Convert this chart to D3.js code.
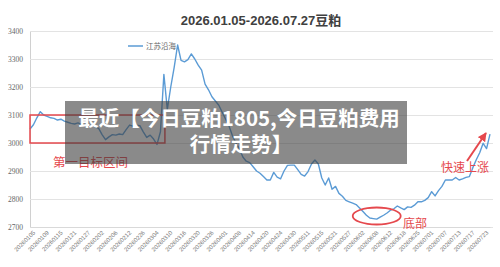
<!DOCTYPE html>
<html>
<head>
<meta charset="utf-8">
<script src="https://cdn.jsdelivr.net/npm/d3@7"></script>
<style>
  body { margin: 0; background: #fff; }
  svg { display: block; }
</style>
</head>
<body>
<script>
// x tick labels, one every 4 trading days
var tickLabels = ['20260105', '20260109', '20260115', '20260121', '20260127', '20260202', '20260206', '20260212',
    '20260226', '20260304', '20260310', '20260316', '20260320', '20260326', '20260401', '20260408', '20260414',
    '20260420', '20260424', '20260430', '20260511', '20260515', '20260521', '20260527', '20260602', '20260608',
    '20260612', '20260618', '20260625', '20260701', '20260707', '20260713', '20260717', '20260723'];

// 江苏沿海 daily price
var prices = [
    3050, 3065, 3090, 3112, 3100, 3095, 3090, 3088, 3082, 3085,
    3078, 3074, 3070, 3068, 3072, 3066, 3063, 3060, 3062, 3058,
    3052, 3030, 3012, 3022, 3030, 3028, 3032, 3030, 3048, 3064,
    3060, 3064, 3062, 3040, 3020, 3028, 3014, 2995, 3040, 3245,
    3120, 3200, 3270, 3350, 3295, 3290, 3298, 3318, 3300, 3278,
    3260, 3210, 3190, 3165, 3150, 3135, 3110, 3085, 3060, 3025,
    3000, 2980, 2950, 2935, 2930, 2915, 2900, 2892, 2880, 2868,
    2868, 2895, 2878, 2872, 2900, 2920, 2921, 2921, 2905, 2888,
    2882, 2898, 2925, 2939, 2925, 2875, 2850, 2875, 2835, 2845,
    2820, 2810, 2795, 2790, 2785, 2780, 2768, 2755, 2742, 2732,
    2730, 2728, 2735, 2742, 2750, 2760, 2765, 2775, 2768, 2762,
    2772, 2770, 2778, 2790, 2790, 2795, 2805, 2826, 2811, 2830,
    2845, 2868, 2868, 2868, 2877, 2868, 2872, 2877, 2880, 2912,
    2940, 2965, 2999, 2980, 3032];

var yTicks = [2700, 2800, 2900, 3000, 3100, 3200, 3300, 3400];

var width = 500, height = 267;
var red = '#e5484d';
var blue = '#5b9bd5';

var svg = d3.select('body').append('svg').attr('width', width).attr('height', height);

var x = d3.scaleLinear().domain([0, prices.length - 1]).range([30, 490]);
var y = d3.scaleLinear().domain([2700, 3400]).range([227, 31]);

// gridlines + y labels
var yAxis = svg.append('g')
    .attr('transform', 'translate(30,0)')
    .call(d3.axisLeft(y).tickValues(yTicks).tickSize(-463).tickPadding(7).tickFormat(d3.format('d')));
yAxis.select('.domain').attr('stroke', '#d0d0d0');
yAxis.selectAll('.tick line').attr('stroke', '#e3e3e3');
yAxis.selectAll('.tick text')
    .attr('fill', '#666')
    .attr('font-family', 'Liberation Serif, serif')
    .attr('font-size', 7.5);

// x labels
var xAxis = svg.append('g')
    .attr('transform', 'translate(0,227)')
    .call(d3.axisBottom(x)
        .tickValues(d3.range(0, tickLabels.length * 4, 4))
        .tickSize(0)
        .tickFormat(function (d) { return tickLabels[d / 4]; }));
xAxis.select('.domain').attr('stroke', '#d9d9d9');
xAxis.selectAll('.tick text')
    .attr('fill', '#777')
    .attr('font-family', 'Liberation Sans, Arial, sans-serif')
    .attr('font-size', 6)
    .attr('text-anchor', 'end')
    .attr('dy', 0)
    .attr('transform', 'translate(3,4) rotate(-45)');

// title
svg.append('text')
    .attr('x', 261).attr('y', 25)
    .attr('text-anchor', 'middle')
    .attr('fill', '#404040')
    .attr('font-family', 'Liberation Sans, Noto Sans CJK SC, sans-serif')
    .attr('font-weight', 'bold')
    .attr('font-size', 13)
    .text('2026.01.05-2026.07.27豆粕');

// legend
svg.append('line').attr('x1', 128).attr('x2', 143).attr('y1', 46).attr('y2', 46)
    .attr('stroke', blue).attr('stroke-width', 1.5);
svg.append('text')
    .attr('x', 146).attr('y', 49)
    .attr('fill', '#666')
    .attr('font-family', 'Noto Sans CJK SC, sans-serif')
    .attr('font-size', 7.5)
    .text('江苏沿海');

// price line
var line = d3.line()
    .x(function (d, i) { return x(i); })
    .y(function (d) { return y(d); });

svg.append('path')
    .datum(prices)
    .attr('d', line)
    .attr('fill', 'none')
    .attr('stroke', blue)
    .attr('stroke-width', 1.4)
    .attr('stroke-linejoin', 'round');

// annotations
svg.append('rect')
    .attr('x', x(0)).attr('y', y(3100))
    .attr('width', x(39.3) - x(0)).attr('height', y(3000) - y(3100))
    .attr('fill', 'none').attr('stroke', red).attr('stroke-width', 1.5);

svg.append('text')
    .attr('x', 53).attr('y', 167)
    .attr('fill', red)
    .attr('font-family', 'Noto Sans CJK SC, sans-serif')
    .attr('font-size', 12.5)
    .text('第一目标区间');

svg.append('ellipse')
    .attr('cx', x(101)).attr('cy', 216)
    .attr('rx', 24).attr('ry', 8.5)
    .attr('fill', 'none').attr('stroke', red).attr('stroke-width', 1.8);

svg.append('text')
    .attr('x', 403).attr('y', 228)
    .attr('fill', red)
    .attr('font-family', 'Noto Sans CJK SC, sans-serif')
    .attr('font-size', 12)
    .text('底部');

svg.append('text')
    .attr('x', 441).attr('y', 172)
    .attr('fill', red)
    .attr('font-family', 'Noto Sans CJK SC, sans-serif')
    .attr('font-size', 12)
    .text('快速上涨');

// arrow
svg.append('defs').append('marker')
    .attr('id', 'head')
    .attr('viewBox', '0 0 10 10')
    .attr('refX', 9).attr('refY', 5)
    .attr('markerWidth', 4.5).attr('markerHeight', 4.5)
    .attr('orient', 'auto')
    .append('path').attr('d', 'M0,0L10,5L0,10Z').attr('fill', red);
svg.append('line')
    .attr('x1', 467).attr('y1', 161).attr('x2', 486).attr('y2', 133)
    .attr('stroke', red).attr('stroke-width', 2)
    .attr('marker-end', 'url(#head)');

// overlay caption
svg.append('rect')
    .attr('x', 65).attr('y', 101).attr('width', 342).attr('height', 63)
    .attr('fill', 'rgba(60,60,60,0.6)');

var cap = svg.append('text')
    .attr('text-anchor', 'middle')
    .attr('fill', '#fff')
    .attr('font-family', 'Noto Sans CJK SC, sans-serif')
    .attr('font-weight', 'bold')
    .attr('font-size', 20.5);
cap.append('tspan').attr('x', 239).attr('y', 126).text('最近【今日豆粕1805,今日豆粕费用');
cap.append('tspan').attr('x', 241).attr('y', 152).text('行情走势】');
</script>
</body>
</html>
